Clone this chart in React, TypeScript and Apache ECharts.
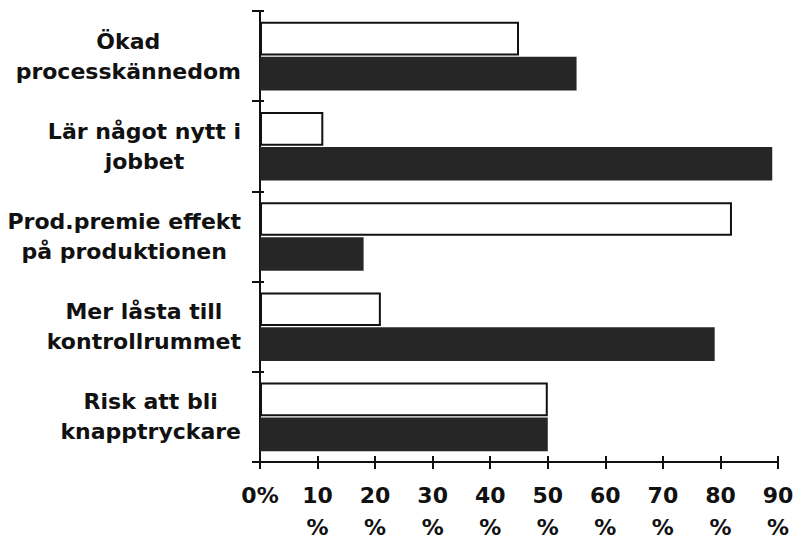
import React, { useEffect, useRef } from "react";
import * as echarts from "echarts";

const categories = [
  "Ökad\nprocesskännedom",
  "Lär något nytt i\njobbet",
  "Prod.premie effekt\npå produktionen",
  "Mer låsta till\nkontrollrummet",
  "Risk att bli\nknapptryckare",
];
const whiteValues = [45, 11, 82, 21, 50];
const blackValues = [55, 89, 18, 79, 50];
const xTicks = [0, 10, 20, 30, 40, 50, 60, 70, 80, 90];

const FONT = "DejaVu Sans";

export default function App() {
  const ref = useRef<HTMLDivElement>(null);
  useEffect(() => {
    if (!ref.current) return;
    const chart = echarts.init(ref.current, null, { renderer: "svg" });
    const axisLineStyle = { color: "#111", width: 2 };
    chart.setOption({
      animation: false,
      backgroundColor: "#fff",
      grid: { left: 260, right: 21, top: 11, bottom: 87, containLabel: false },
      xAxis: [
        {
          type: "value",
          min: xTicks[0],
          max: xTicks[xTicks.length - 1],
          interval: 10,
          position: "bottom",
          splitLine: { show: false },
          axisLine: { show: true, lineStyle: axisLineStyle },
          axisTick: { show: true, length: 7, lineStyle: axisLineStyle },
          axisLabel: {
            margin: 17,
            color: "#111",
            fontFamily: FONT,
            fontWeight: "bold",
            fontSize: 22,
            lineHeight: 32,
            formatter: (v: number) => (v === 0 ? "0%" : v + "\n%"),
          },
        },
        {
          type: "value",
          min: xTicks[0],
          max: xTicks[xTicks.length - 1],
          interval: 10,
          position: "bottom",
          splitLine: { show: false },
          axisLine: { show: false },
          axisTick: { show: true, inside: true, length: 6, lineStyle: axisLineStyle },
          axisLabel: { show: false },
        },
      ],
      yAxis: [
        {
          type: "category",
          data: categories,
          inverse: true,
          position: "left",
          axisLine: { show: true, lineStyle: axisLineStyle },
          axisTick: { show: true, length: 8, lineStyle: axisLineStyle },
          axisLabel: {
            margin: 19,
            color: "#111",
            fontFamily: FONT,
            fontWeight: "bold",
            fontSize: 22,
            lineHeight: 30,
            formatter: (v: string) =>
              v
                .split("\n")
                .map((l) => "{c|" + l + "}")
                .join("\n"),
            rich: {
              c: {
                align: "center",
                fontFamily: FONT,
                fontWeight: "bold",
                fontSize: 22,
                lineHeight: 30,
                color: "#111",
              },
            },
          },
        },
        {
          type: "category",
          data: categories,
          inverse: true,
          position: "left",
          axisLine: { show: false },
          axisTick: { show: true, inside: true, length: 4, lineStyle: axisLineStyle },
          axisLabel: { show: false },
        },
      ],
      series: [
        {
          type: "bar",
          data: whiteValues,
          xAxisIndex: 0,
          yAxisIndex: 0,
          barGap: "4%",
          barCategoryGap: "24%",
          itemStyle: { color: "#fff", borderColor: "#111", borderWidth: 2 },
        },
        {
          type: "bar",
          data: blackValues,
          xAxisIndex: 0,
          yAxisIndex: 0,
          barGap: "4%",
          barCategoryGap: "24%",
          itemStyle: { color: "#262626" },
        },
      ],
    });
    return () => chart.dispose();
  }, []);
  return (
    <div
      ref={ref}
      style={{ position: "fixed", left: 0, top: 0, width: 799, height: 549 }}
    />
  );
}
